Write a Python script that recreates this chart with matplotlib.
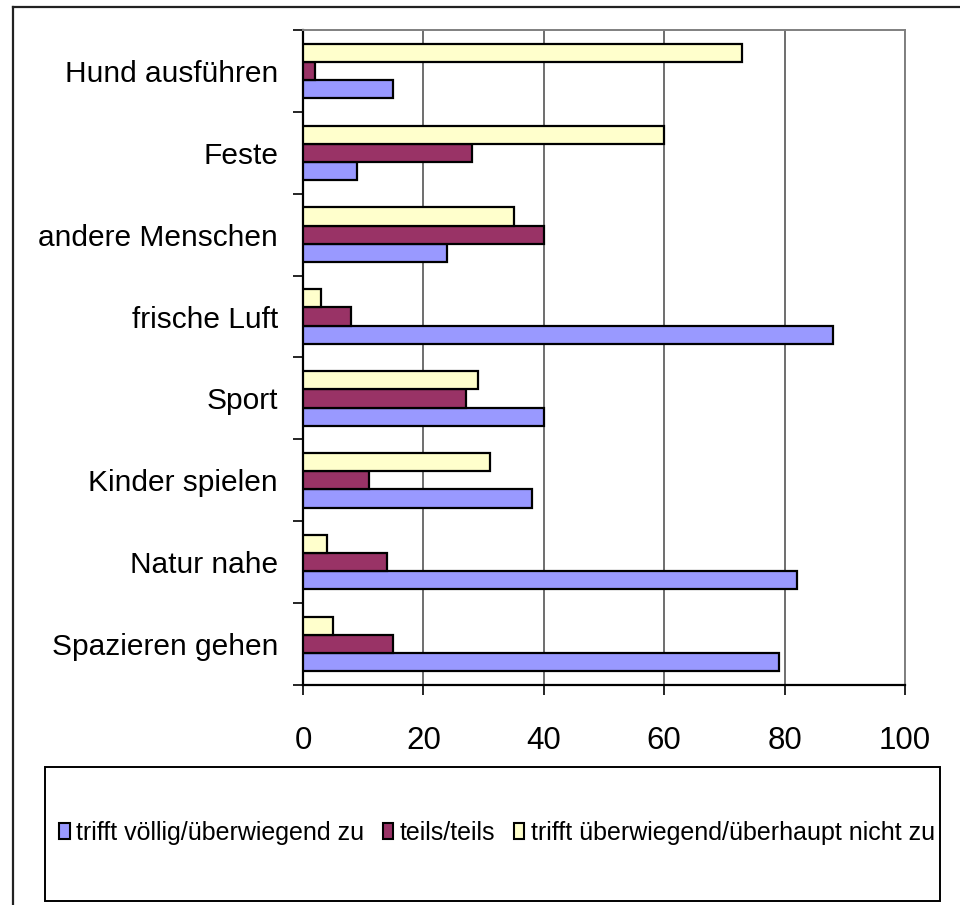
import matplotlib
matplotlib.use("Agg")
import matplotlib.pyplot as plt
from matplotlib import font_manager
from matplotlib.patches import Rectangle, Patch
from matplotlib.lines import Line2D
import numpy as np

categories = ["Spazieren gehen", "Natur nahe", "Kinder spielen", "Sport",
              "frische Luft", "andere Menschen", "Feste", "Hund ausführen"]
series_names = ["trifft völlig/überwiegend zu", "teils/teils",
                "trifft überwiegend/überhaupt nicht zu"]
voellig = [79, 82, 38, 40, 88, 24, 9, 15]
teils = [15, 14, 11, 27, 8, 40, 28, 2]
nicht = [5, 4, 31, 29, 3, 35, 60, 73]
xticks = [0, 20, 40, 60, 80, 100]
colors = ["#9999FF", "#993366", "#FFFFCC"]

names = {f.name for f in font_manager.fontManager.ttflist}
if "Liberation Sans Narrow" in names:
    axfam = ["Liberation Sans Narrow", "DejaVu Sans"]
    axsize = 25.5
else:
    axfam = ["Liberation Sans", "DejaVu Sans"]
    axsize = 21.5
legfam = ["Liberation Sans", "DejaVu Sans"]

W, H = 960, 905
fig = plt.figure(figsize=(W / 100, H / 100), dpi=100)
ax = fig.add_axes([303 / W, 1 - 685 / H, 602 / W, 655 / H])

y = np.arange(len(categories))
bh = 0.222
for i, (vals, c) in enumerate(zip([voellig, teils, nicht], colors)):
    ax.barh(y + (i - 1) * bh, vals, height=bh, color=c, edgecolor="black",
            linewidth=1.6, zorder=3)

ax.set_xlim(0, 100)
ax.set_ylim(-0.5, len(categories) - 0.5)
ax.set_xticks(xticks)
ax.set_xticklabels([str(t) for t in xticks], fontsize=axsize + 1, family=axfam)
ax.set_yticks(y)
ax.set_yticklabels(categories, fontsize=axsize, family=axfam)
ax.set_yticks(np.arange(-0.5, len(categories)), minor=True)
ax.tick_params(axis="y", which="major", length=0, pad=18)
ax.tick_params(axis="y", which="minor", length=7, width=1.2, direction="out", color="black")
ax.tick_params(axis="x", which="major", length=7.5, width=1.2, direction="out",
               color="black", pad=22)
ax.xaxis.grid(True, color="#555555", linewidth=1.2, zorder=0)
ax.set_axisbelow(True)
for s in ["left", "bottom"]:
    ax.spines[s].set_color("black")
    ax.spines[s].set_linewidth(1.6)
for s in ["top", "right"]:
    ax.spines[s].set_color("#808080")
    ax.spines[s].set_linewidth(1.4)

# outer chart border (left and top visible)
fig.add_artist(Line2D([13 / W, 13 / W], [0, 1 - 7 / H], transform=fig.transFigure,
                      color="#222222", linewidth=1.6))
fig.add_artist(Line2D([13 / W, 1], [1 - 7 / H, 1 - 7 / H], transform=fig.transFigure,
                      color="#222222", linewidth=1.6))

# legend box
fig.add_artist(Rectangle((45 / W, 1 - 901 / H), 895 / W, 134 / H,
                         transform=fig.transFigure, facecolor="white",
                         edgecolor="black", linewidth=1.4))
handles = [Patch(facecolor=c, edgecolor="black", linewidth=1.5) for c in colors]
fig.legend(handles, series_names, loc="center", bbox_to_anchor=(497 / W, 1 - 833 / H),
           ncol=3, frameon=False, prop={"family": legfam, "size": 18},
           handlelength=0.42, handleheight=0.62, handletextpad=0.25,
           columnspacing=0.75, borderpad=0)

fig.savefig("out.png", dpi=100)
